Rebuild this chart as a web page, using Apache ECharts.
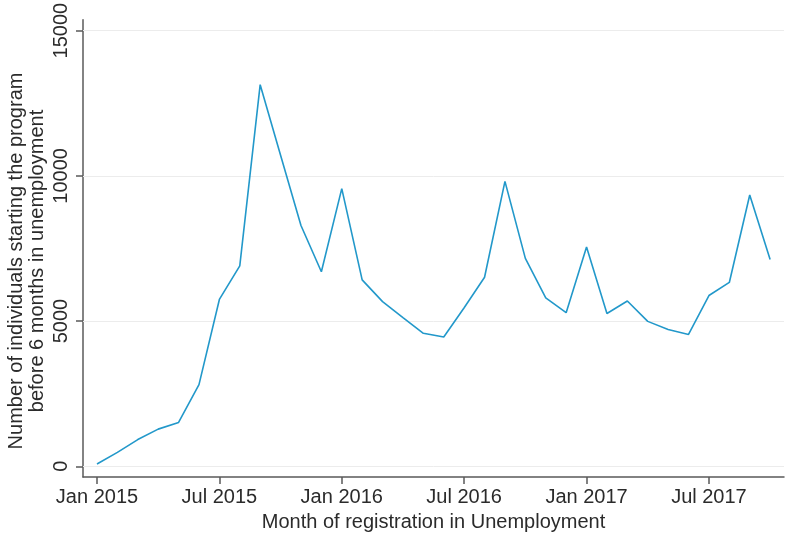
<!DOCTYPE html>
<html>
<head>
<meta charset="utf-8">
<script src="https://cdn.jsdelivr.net/npm/echarts@6/dist/echarts.min.js"></script>
<style>
html,body{margin:0;padding:0;background:#fff;}
#chart{width:786px;height:537px;}
</style>
</head>
<body>
<div id="chart"></div>
<script>
// Months Jan 2015 .. Oct 2017
var months = ["Jan 2015","Feb 2015","Mar 2015","Apr 2015","May 2015","Jun 2015","Jul 2015","Aug 2015","Sep 2015","Oct 2015","Nov 2015","Dec 2015",
  "Jan 2016","Feb 2016","Mar 2016","Apr 2016","May 2016","Jun 2016","Jul 2016","Aug 2016","Sep 2016","Oct 2016","Nov 2016","Dec 2016",
  "Jan 2017","Feb 2017","Mar 2017","Apr 2017","May 2017","Jun 2017","Jul 2017","Aug 2017","Sep 2017","Oct 2017"];
var starters = [80,480,920,1280,1510,2810,5745,6900,13140,10710,8290,6700,
  9560,6420,5670,5120,4580,4450,5460,6510,9810,7160,5800,5290,
  7550,5260,5690,4990,4710,4540,5880,6330,9340,7120];
var xTickPositions = [0,6,12,18,24,30];
var xTickLabels = ["Jan 2015","Jul 2015","Jan 2016","Jul 2016","Jan 2017","Jul 2017"];
var yTicks = [0,5000,10000,15000];
var xTitle = "Month of registration in Unemployment";
var yTitleLines = ["Number of individuals starting the program", "before 6 months in unemployment"];

var data = starters.map(function(v,i){ return [i, v]; });
var font = "'Liberation Sans', Arial, sans-serif";
var textColor = "#2b2b2b";
var axisColor = "#5a5a5a";
var lineColor = '#2298ca';

var chart = echarts.init(document.getElementById('chart'), null, {renderer:'canvas'});
chart.setOption({
  animation:false,
  backgroundColor:'#ffffff',
  textStyle:{fontFamily:font},
  grid:{left:83, right:2, top:19, bottom:53, containLabel:false},
  xAxis:{
    type:'value',
    min:-0.686, max:33.68,
    splitLine:{show:false},
    axisLine:{show:true, onZero:false, lineStyle:{color:axisColor, width:1.5}},
    axisTick:{show:true, length:7, customValues:xTickPositions, lineStyle:{color:axisColor, width:1.5}},
    axisLabel:{customValues:xTickPositions, margin:10, fontSize:20, color:textColor, fontFamily:font,
      formatter:function(v){ var k = xTickPositions.indexOf(Math.round(v)); return k>=0 ? xTickLabels[k] : ''; }},
    name:xTitle, nameLocation:'middle', nameGap:31,
    nameTextStyle:{fontSize:20, color:textColor, fontFamily:font}
  },
  yAxis:{
    type:'value',
    min:-372, max:15374,
    splitLine:{show:false},
    axisLine:{show:true, onZero:false, lineStyle:{color:axisColor, width:1.5}},
    axisTick:{show:true, length:7, customValues:yTicks, lineStyle:{color:axisColor, width:1.5}},
    axisLabel:{customValues:yTicks, rotate:90, margin:12, fontSize:20, color:textColor, fontFamily:font,
      formatter:function(v){ return String(v); }}
  },
  graphic:[{
    type:'text', x:16, y:261, rotation:Math.PI/2,
    style:{text:yTitleLines[0], fontSize:20, fontFamily:font, fill:textColor, align:'center', verticalAlign:'middle'}
  },{
    type:'text', x:37, y:261, rotation:Math.PI/2,
    style:{text:yTitleLines[1], fontSize:20, fontFamily:font, fill:textColor, align:'center', verticalAlign:'middle'}
  }],
  series:[{
    type:'line',
    data:data,
    showSymbol:false,
    lineStyle:{color:lineColor, width:1.6},
    itemStyle:{color:lineColor},
    z:3,
    markLine:{
      silent:true, symbol:['none','none'], label:{show:false},
      lineStyle:{color:'#ececec', width:1, type:'solid'},
      data: yTicks.map(function(t){ return {yAxis:t}; }),
      z:1
    }
  }]
});
</script>
</body>
</html>
